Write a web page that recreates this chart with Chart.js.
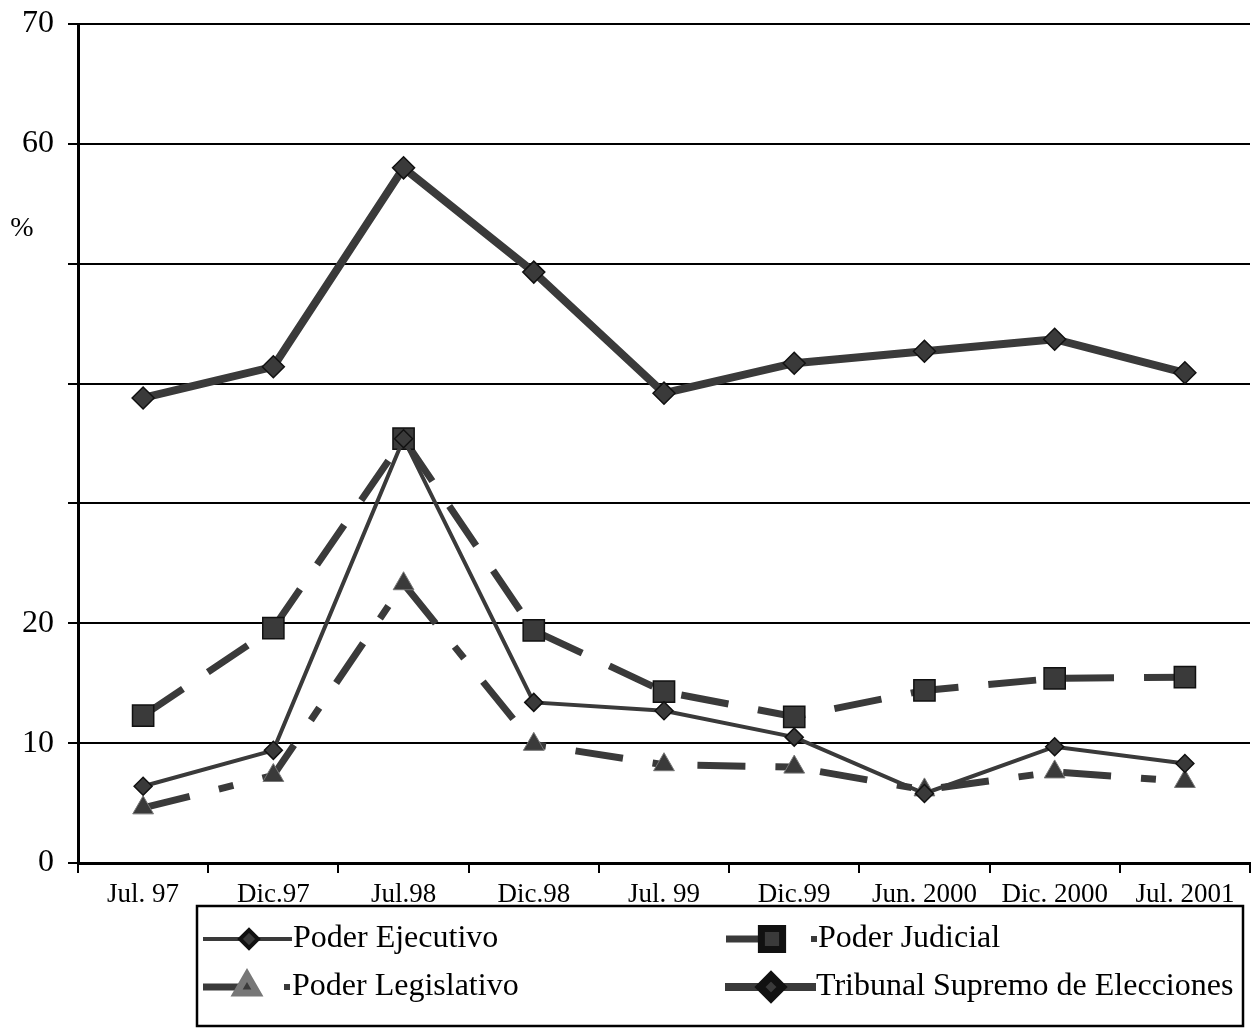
<!DOCTYPE html>
<html lang="es">

<head>
    <meta charset="UTF-8">
    <title>Confianza en los poderes del Estado</title>
    <script src="https://cdn.jsdelivr.net/npm/chart.js"></script>
    <style>
        body {
            margin: 0;
            background-color: #fff;
        }

        .chart-container {
            position: relative;
            width: 1251px;
            height: 1033px;
        }
    </style>
</head>

<body>
    <div class="chart-container">
        <canvas id="lineChart"></canvas>
    </div>

    <script>
        // Data
        const categories = ['Jul. 97', 'Dic.97', 'Jul.98', 'Dic.98', 'Jul. 99', 'Dic.99', 'Jun. 2000', 'Dic. 2000', 'Jul. 2001'];
        const poderEjecutivo = [6.4, 9.4, 35.4, 13.4, 12.7, 10.5, 5.8, 9.7, 8.3];
        const poderJudicial = [12.3, 19.6, 35.4, 19.4, 14.3, 12.2, 14.4, 15.4, 15.5];
        const poderLegislativo = [4.6, 7.3, 23.3, 9.9, 8.2, 8.0, 6.1, 7.6, 6.8];
        const tribunalSupremo = [38.8, 41.4, 58.0, 49.3, 39.2, 41.7, 42.7, 43.7, 40.9];
        const yLabelsShown = [0, 10, 20, 60, 70];

        const FONT = '"Liberation Serif", "Times New Roman", serif';
        const INK = '#3a3a3a';

        // Boxed legend under the axis, plus the "%" label
        const boxLegend = {
            id: 'boxLegend',
            afterDraw(chart) {
                const ctx = chart.ctx;
                const drawPoint = Chart.helpers.drawPoint;
                ctx.save();

                // "%" next to the y axis
                ctx.fillStyle = '#000';
                ctx.font = '28px ' + FONT;
                ctx.textAlign = 'center';
                ctx.textBaseline = 'middle';
                ctx.fillText('%', 22, 229);

                // frame
                ctx.strokeStyle = '#000';
                ctx.lineWidth = 2.5;
                ctx.strokeRect(197, 906, 1046, 120);

                const row1 = 939, row2 = 987;

                function sample(x1, x2, y, width, style, mx, radius, border) {
                    ctx.strokeStyle = INK;
                    ctx.lineWidth = width;
                    ctx.setLineDash([]);
                    ctx.beginPath();
                    ctx.moveTo(x1, y);
                    ctx.lineTo(x2, y);
                    ctx.stroke();
                    ctx.fillStyle = INK;
                    ctx.strokeStyle = border;
                    drawPoint(ctx, { pointStyle: style, radius: radius, rotation: 0, borderWidth: 1 }, mx, y);
                }

                sample(203, 292, row1, 4, 'rectRot', 249, 9, '#111');
                sample(203, 245, row2, 7, 'triangle', 247, 12, '#777');
                sample(726, 772, row1, 7, 'rect', 772, 15, '#111');
                sample(725, 816, row2, 8, 'rectRot', 771, 11, '#111');

                // tiny dash remnants before the dashed series names
                ctx.fillStyle = INK;
                ctx.fillRect(284, row2 - 3, 6, 6);
                ctx.fillRect(811, row1 - 3, 6, 6);

                ctx.fillStyle = '#000';
                ctx.font = '32px ' + FONT;
                ctx.textAlign = 'left';
                ctx.textBaseline = 'middle';
                ctx.fillText('Poder Ejecutivo', 293, row1);
                ctx.fillText('Poder Legislativo', 292, row2);
                ctx.fillText('Poder Judicial', 818, row1);
                ctx.fillText('Tribunal Supremo de Elecciones', 816, row2);

                ctx.restore();
            }
        };

        const ctx = document.getElementById('lineChart').getContext('2d');
        const lineChart = new Chart(ctx, {
            type: 'line',
            data: {
                labels: categories,
                datasets: [
                    {
                        label: 'Tribunal Supremo de Elecciones',
                        data: tribunalSupremo,
                        borderColor: INK,
                        borderWidth: 8,
                        pointStyle: 'rectRot',
                        pointRadius: 11,
                        pointBackgroundColor: INK,
                        pointBorderColor: '#111',
                        pointBorderWidth: 1.5,
                        order: 1
                    },
                    {
                        label: 'Poder Ejecutivo',
                        data: poderEjecutivo,
                        borderColor: INK,
                        borderWidth: 4,
                        pointStyle: 'rectRot',
                        pointRadius: 9,
                        pointBackgroundColor: INK,
                        pointBorderColor: '#111',
                        pointBorderWidth: 1.5,
                        order: 2
                    },
                    {
                        label: 'Poder Judicial',
                        data: poderJudicial,
                        borderColor: INK,
                        borderWidth: 7,
                        borderDash: [48, 30],
                        pointStyle: 'rect',
                        pointRadius: 15,
                        pointBackgroundColor: INK,
                        pointBorderColor: '#111',
                        pointBorderWidth: 1.5,
                        order: 3
                    },
                    {
                        label: 'Poder Legislativo',
                        data: poderLegislativo,
                        borderColor: INK,
                        borderWidth: 7,
                        borderDash: [48, 30, 15, 30],
                        pointStyle: 'triangle',
                        pointRadius: 12,
                        pointBackgroundColor: INK,
                        pointBorderColor: '#777',
                        pointBorderWidth: 1,
                        order: 4
                    }
                ]
            },
            options: {
                responsive: true,
                maintainAspectRatio: false,
                animation: false,
                layout: {
                    autoPadding: false, // plot runs to the right edge like the original
                    padding: { top: 24, left: 0, right: 1, bottom: 0 }
                },
                scales: {
                    x: {
                        offset: true,
                        // fixed axis height; no extra side padding for the end labels
                        afterFit: s => { s.height = 170; s.paddingLeft = 0; s.paddingRight = 0; },
                        grid: {
                            offset: true,
                            drawOnChartArea: false,
                            drawTicks: true,
                            tickLength: 10,
                            color: '#000',
                            lineWidth: 2
                        },
                        border: { display: true, color: '#000', width: 3 },
                        ticks: {
                            color: '#000',
                            padding: 6,
                            maxRotation: 0,
                            autoSkip: false,
                            font: { family: FONT, size: 27 }
                        }
                    },
                    y: {
                        min: 0,
                        max: 70,
                        // fixed axis width; top of the plot set by layout padding only
                        afterFit: s => { s.width = 78; s.paddingTop = 0; s.paddingBottom = 0; },
                        grid: {
                            color: '#000',
                            lineWidth: 2,
                            drawTicks: true,
                            tickLength: 10
                        },
                        border: { display: true, color: '#000', width: 3 },
                        ticks: {
                            stepSize: 10,
                            color: '#000',
                            padding: 14,
                            font: { family: FONT, size: 32 },
                            callback: v => yLabelsShown.includes(v) ? String(v) : ''
                        }
                    }
                },
                plugins: {
                    legend: { display: false },
                    tooltip: { enabled: false }
                }
            },
            plugins: [boxLegend]
        });
    </script>

</body>

</html>
